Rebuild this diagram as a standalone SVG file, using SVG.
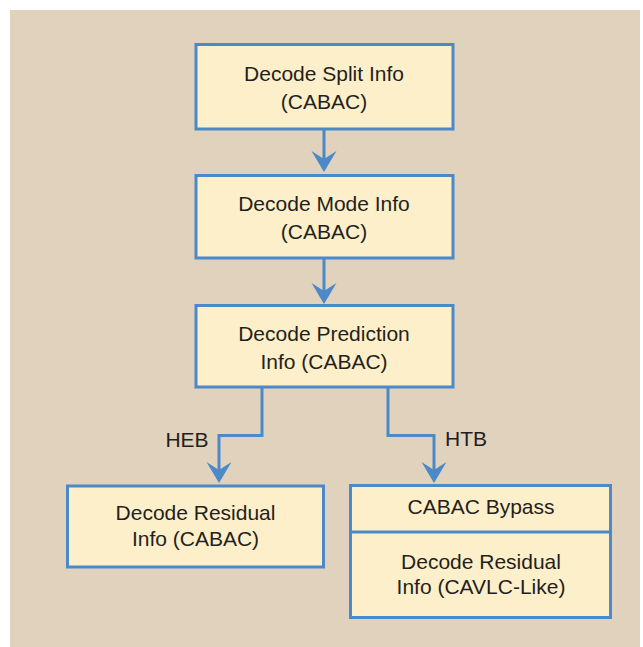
<svg xmlns="http://www.w3.org/2000/svg" width="643" height="647" viewBox="0 0 643 647">
<style>
.box{fill:#fdefc9;stroke:#4b89c9;stroke-width:3}
.t{font-family:"Liberation Sans",Arial,sans-serif;font-size:21px;fill:#231f20;text-anchor:middle}
.c{fill:none;stroke:#4b89c9;stroke-width:3}
</style>
<defs>
<marker id="ah" markerUnits="userSpaceOnUse" viewBox="0 -13 24 26" markerWidth="24" markerHeight="26" refX="8" refY="0" orient="auto">
<path d="M0,-12.5 L8,0 L0,12.5 L21,0 Z" fill="#4b89c9"/>
</marker>
</defs>
<rect x="10" y="10" width="630" height="637" fill="#e0d2bc"/>
<g id="connectors">
<path class="c" d="M324,129 V159" marker-end="url(#ah)"/>
<path class="c" d="M324,258 V291" marker-end="url(#ah)"/>
<path class="c" d="M262,387 V435.5 H219 V470" marker-end="url(#ah)"/>
<path class="c" d="M388,387 V435.5 H434 V470" marker-end="url(#ah)"/>
<text class="t" x="187" y="447">HEB</text>
<text class="t" x="466" y="446">HTB</text>
</g>
<g id="n1">
<rect class="box" x="196" y="44.5" width="257" height="84.5"/>
<text class="t" x="324" y="81">Decode Split Info</text>
<text class="t" x="324" y="109">(CABAC)</text>
</g>
<g id="n2">
<rect class="box" x="196" y="175.5" width="257" height="82.5"/>
<text class="t" x="324" y="211">Decode Mode Info</text>
<text class="t" x="324" y="239">(CABAC)</text>
</g>
<g id="n3">
<rect class="box" x="196" y="305.5" width="257" height="81.5"/>
<text class="t" x="324" y="341">Decode Prediction</text>
<text class="t" x="324" y="369">Info (CABAC)</text>
</g>
<g id="n4">
<rect class="box" x="67.5" y="486" width="256" height="81"/>
<text class="t" x="195.5" y="520">Decode Residual</text>
<text class="t" x="195.5" y="546">Info (CABAC)</text>
</g>
<g id="n5">
<rect class="box" x="350.5" y="485.5" width="260" height="132"/>
<line class="c" x1="350.5" y1="532" x2="610.5" y2="532"/>
<text class="t" x="481" y="514">CABAC Bypass</text>
<text class="t" x="481" y="569">Decode Residual</text>
<text class="t" x="481" y="594">Info (CAVLC-Like)</text>
</g>
</svg>
